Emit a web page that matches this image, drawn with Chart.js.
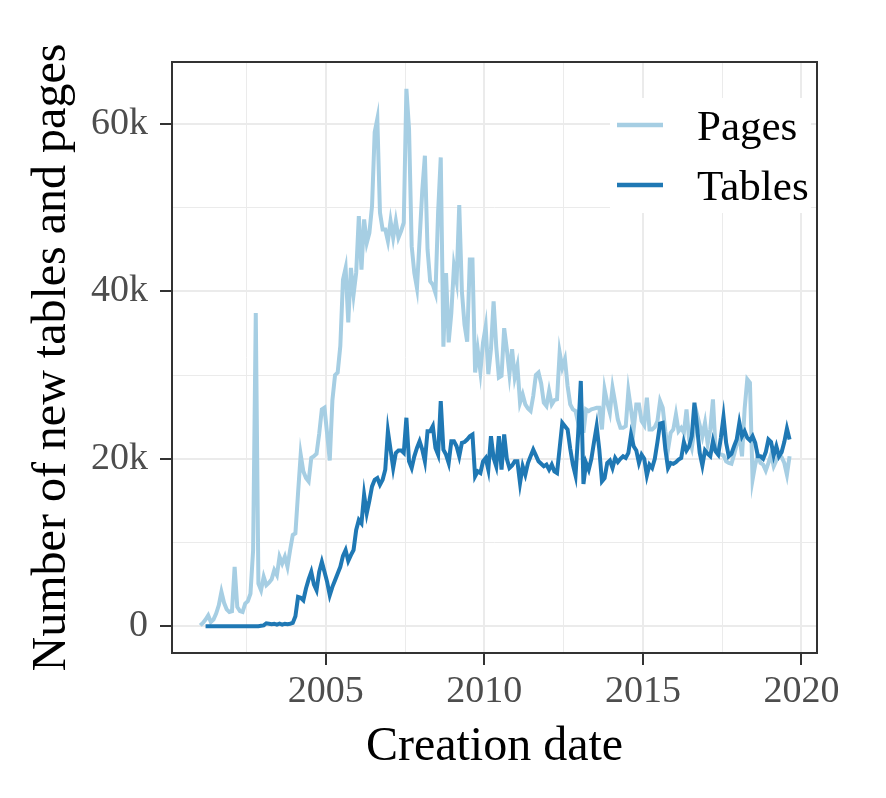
<!DOCTYPE html>
<html>
<head>
<meta charset="utf-8">
<script src="https://cdn.jsdelivr.net/npm/chart.js@4.4.1/dist/chart.umd.min.js"></script>
<style>
  html, body { margin: 0; padding: 0; background: #fff; }
  #wrap { width: 886px; height: 798px; }
</style>
</head>
<body>
<div id="wrap"><canvas id="creationChart" width="886" height="798"></canvas></div>
<script>
// monthly counts (thousands), Jan 2001 .. Aug 2019
const startYear = 2001;

const pagesK = [
  0.1, 0.4, 0.8, 1.3, 0.5, 0.8, 1.5, 2.5, 4.1, 2.8, 2.0, 1.7,          // 2001
  1.8, 7.1, 2.3, 1.8, 1.7, 2.7, 3.0, 3.9, 9.1, 37.4, 5.1, 4.3,         // 2002
  5.9, 4.9, 5.2, 5.6, 6.7, 6.1, 8.3, 7.5, 8.3, 7.1, 9.1, 10.9,         // 2003
  11.1, 15.9, 20.5, 18.5, 17.7, 17.3, 20.1, 20.3, 20.6, 23.0, 25.9, 26.1,
  23.0, 19.8, 27.0, 30.0, 30.3, 33.5, 41.4, 42.8, 36.3, 42.8, 39.6, 42.2,
  49.0, 42.6, 48.6, 45.8, 47.0, 50.2, 59.0, 60.6, 49.4, 47.4, 47.4, 46.0,
  48.4, 46.4, 48.4, 46.4, 47.2, 48.2, 64.2, 59.4, 45.4, 42.2, 40.4, 46.2,
  52.0, 56.2, 45.0, 41.2, 40.8, 39.8, 49.4, 56.0, 33.4, 42.2, 33.9, 37.4,
  43.0, 41.2, 50.3, 40.0, 36.0, 34.0, 43.8, 43.8, 30.3, 33.0, 30.4, 33.9,
  35.8, 30.1, 33.1, 38.8, 33.4, 29.7, 29.9, 35.6, 33.1, 30.1, 33.1, 29.7,
  31.1, 26.7, 27.7, 26.5, 26.0, 25.7, 27.5, 30.0, 30.3, 29.0, 26.7, 26.3,
  28.1, 26.5, 27.0, 27.1, 32.7, 30.9, 31.9, 28.7, 26.5, 25.9, 25.7, 24.3,
  27.1, 23.1, 25.9, 25.7, 25.9, 26.0, 26.1, 26.1, 23.5, 28.3, 26.7, 25.5,
  28.5, 26.7, 24.7, 23.7, 23.7, 23.9, 28.1, 25.9, 23.5, 26.5, 26.5, 24.5,
  24.0, 27.3, 23.5, 23.5, 23.8, 24.5, 26.9, 26.1, 23.3, 21.1, 23.1, 23.5,
  25.3, 23.3, 23.7, 23.1, 25.9, 22.3, 21.3, 23.5, 25.3, 24.0, 22.7, 24.3,
  21.8, 23.5, 27.1, 21.2, 20.5, 20.5, 20.4, 19.7, 19.5, 19.4, 20.5, 21.7,
  22.9, 20.3, 26.0, 29.5, 29.1, 17.5, 19.3, 20.5, 19.5, 19.3, 18.6, 19.5,
  20.5, 19.1, 19.8, 20.5, 20.2, 19.5, 18.1, 20.3                        // 2019
];

const tablesK = [
  null, null, 0, 0, 0, 0, 0, 0, 0, 0, 0, 0,                             // 2001
  0, 0, 0, 0, 0, 0, 0, 0, 0, 0, 0, 0.05,
  0.1, 0.35, 0.3, 0.25, 0.3, 0.2, 0.3, 0.2, 0.3, 0.25, 0.3, 0.4,
  1.2, 3.5, 3.4, 3.1, 4.5, 5.6, 6.5, 5.0, 4.3, 6.5, 7.7, 6.5,
  5.3, 3.7, 4.7, 5.5, 6.3, 7.1, 8.4, 9.1, 7.8, 8.5, 9.1, 11.5,
  12.7, 12.3, 15.7, 13.5, 15.0, 16.7, 17.5, 17.7, 16.9, 17.5, 18.7, 23.3,
  21.1, 18.9, 20.7, 21.0, 21.0, 20.7, 24.9, 19.7, 18.9, 20.3, 21.3, 22.1,
  21.1, 19.7, 23.3, 23.3, 23.9, 21.3, 20.5, 26.9, 21.1, 20.5, 19.5, 22.1,
  22.1, 21.5, 20.3, 21.9, 22.0, 22.3, 22.7, 22.9, 17.9, 18.5, 18.3, 19.7,
  20.1, 18.7, 22.7, 20.1, 19.1, 22.7, 18.7, 22.9, 20.0, 18.9, 19.2, 19.7,
  19.7, 17.1, 19.1, 18.1, 19.5, 20.3, 21.1, 20.4, 19.7, 19.4, 19.1, 19.3,
  18.7, 19.3, 18.5, 18.3, 21.3, 24.3, 23.9, 23.5, 21.2, 19.3, 18.0, 23.0,
  29.3, 17.0, 19.5, 18.7, 20.0, 22.0, 23.9, 21.1, 17.3, 17.7, 19.5, 19.8,
  18.9, 20.1, 19.6, 20.0, 20.3, 20.1, 20.7, 22.9, 21.5, 21.0, 19.5, 20.5,
  20.0, 18.0, 19.3, 18.9, 20.0, 22.0, 24.2, 24.3, 21.1, 18.9, 19.5, 19.4,
  19.6, 19.9, 20.1, 22.0, 21.0, 21.5, 22.7, 26.7, 23.8, 20.7, 19.2, 21.0,
  20.6, 20.3, 22.1, 20.9, 20.5, 22.5, 25.0, 21.9, 20.3, 20.6, 21.5, 22.3,
  24.3, 22.7, 23.3, 22.5, 22.2, 22.7, 21.9, 20.3, 20.3, 20.0, 20.8, 22.3,
  22.0, 20.4, 21.5, 20.3, 20.8, 22.0, 23.6, 22.3                        // 2019
];

const seriesLabels = ["Pages", "Tables"];
const seriesColors = ["#a6cee3", "#1f78b4"];

const xMajorTicks = [2005, 2010, 2015, 2020];
const xMinorTicks = [2002.5, 2007.5, 2012.5, 2017.5];
const yMajorTicks = [0, 20, 40, 60];
const yMinorTicks = [10, 30, 50];

const serif = "'Liberation Serif', 'DejaVu Serif', serif";

// mid-month x positions
const toPoints = (vals) => vals.map((v, i) => ({ x: startYear + (i + 0.5) / 12, y: v }));

const withMinor = (major, minor) => () => [...major, ...minor].sort((a, b) => a - b).map(v => ({ value: v }));
const isMajor = (list) => (c) => c.tick && list.includes(c.tick.value);

const panelFrame = {
  id: "panelFrame",
  beforeDraw(chart) {
    const { ctx, width, height } = chart;
    ctx.save();
    ctx.fillStyle = "#fff";
    ctx.fillRect(0, 0, width, height);
    ctx.restore();
  },
  afterDraw(chart) {
    const { ctx, chartArea: a } = chart;
    ctx.save();
    ctx.strokeStyle = "#333";
    ctx.lineWidth = 2;
    ctx.strokeRect(a.left, a.top, a.right - a.left, a.bottom - a.top);
    ctx.restore();
  }
};

// ggplot-style legend sitting inside the panel, top right
const insetLegend = {
  id: "insetLegend",
  afterDatasetsDraw(chart) {
    const { ctx, chartArea: a } = chart;
    const boxLeft = a.right - 207, boxTop = a.top + 36, boxW = 201, boxH = 115;
    ctx.save();
    ctx.fillStyle = "#fff";
    ctx.fillRect(boxLeft, boxTop, boxW, boxH);
    ctx.font = "43px " + serif;
    ctx.textBaseline = "alphabetic";
    ctx.fillStyle = "#000";
    seriesLabels.forEach((lab, i) => {
      const cy = boxTop + 27 + i * 60;
      ctx.strokeStyle = seriesColors[i];
      ctx.lineWidth = 4.5;
      ctx.beginPath();
      ctx.moveTo(boxLeft + 7, cy);
      ctx.lineTo(boxLeft + 53, cy);
      ctx.stroke();
      ctx.fillText(lab, boxLeft + 87, cy + 15);
    });
    ctx.restore();
  }
};

new Chart(document.getElementById("creationChart"), {
  type: "line",
  data: {
    datasets: [
      {
        label: seriesLabels[0],
        data: toPoints(pagesK),
        borderColor: seriesColors[0],
        borderWidth: 4,
        pointRadius: 0,
        tension: 0,
        order: 2
      },
      {
        label: seriesLabels[1],
        data: toPoints(tablesK),
        borderColor: seriesColors[1],
        borderWidth: 4,
        pointRadius: 0,
        tension: 0,
        order: 1
      }
    ]
  },
  options: {
    responsive: false,
    animation: false,
    layout: { padding: { top: 62, right: 69, bottom: 0, left: 0 } },
    plugins: { legend: { display: false }, tooltip: { enabled: false } },
    scales: {
      x: {
        type: "linear",
        min: 2000.15,
        max: 2020.49,
        afterBuildTicks: (s) => { s.ticks = withMinor(xMajorTicks, xMinorTicks)(); },
        afterFit: (s) => { s.height = 145; },
        border: { display: false },
        grid: {
          color: "#ebebeb",
          lineWidth: (c) => isMajor(xMajorTicks)(c) ? 2 : 1,
          tickLength: 12,
          tickWidth: 2,
          tickColor: (c) => isMajor(xMajorTicks)(c) ? "#333" : "rgba(0,0,0,0)"
        },
        ticks: {
          autoSkip: false,
          maxRotation: 0,
          padding: 4,
          color: "#4d4d4d",
          font: { family: serif, size: 38 },
          callback: (v) => xMajorTicks.includes(v) ? String(v) : ""
        },
        title: {
          display: true,
          text: "Creation date",
          color: "#000",
          font: { family: serif, size: 48 },
          padding: { top: 0, bottom: 22 }
        }
      },
      y: {
        type: "linear",
        min: -3.2,
        max: 67.4,
        afterBuildTicks: (s) => { s.ticks = withMinor(yMajorTicks, yMinorTicks)(); },
        afterFit: (s) => { s.width = 172; },
        border: { display: false },
        grid: {
          color: "#ebebeb",
          lineWidth: (c) => isMajor(yMajorTicks)(c) ? 2 : 1,
          tickLength: 12,
          tickWidth: 2,
          tickColor: (c) => isMajor(yMajorTicks)(c) ? "#333" : "rgba(0,0,0,0)"
        },
        ticks: {
          autoSkip: false,
          padding: 12,
          color: "#4d4d4d",
          font: { family: serif, size: 38 },
          callback: (v) => yMajorTicks.includes(v) ? (v === 0 ? "0" : v + "k") : ""
        },
        title: {
          display: true,
          text: "Number of new tables and pages",
          color: "#000",
          font: { family: serif, size: 48 },
          padding: { top: 24, bottom: 0 }
        }
      }
    }
  },
  plugins: [panelFrame, insetLegend]
});
</script>
</body>
</html>
